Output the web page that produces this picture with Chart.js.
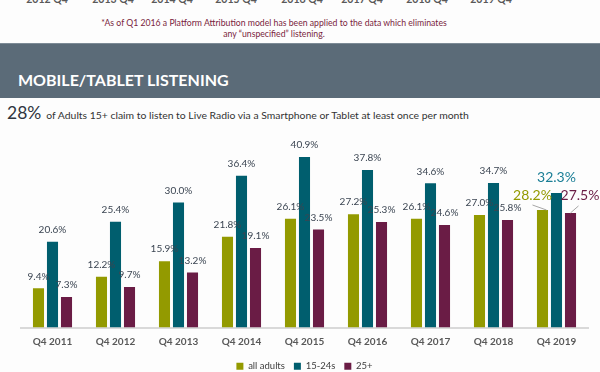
<!DOCTYPE html>
<html>
<head>
<meta charset="utf-8">
<script src="https://cdn.jsdelivr.net/npm/chart.js@4"></script>
<style>
  html,body{margin:0;padding:0;background:#fdfdfd;width:600px;height:372px;overflow:hidden;font-family:Lato,"Open Sans",sans-serif;}
  .abs{position:absolute;white-space:nowrap;}
  #banner{position:absolute;left:0;top:43px;width:600px;height:54px;background:#5b6b78;border-top:1px solid #7d8b96;}
  #btitle{left:18px;top:70px;color:#fff;font-weight:700;font-size:16px;}
  .toplab{top:-7px;font-size:10.5px;font-weight:700;color:#595959;transform:translateX(-50%);}
  .note{font-size:8.7px;color:#7a1e40;left:274px;transform:translateX(-50%);}
  #sub{left:7px;top:102px;color:#333;}
  #sub .big{font-size:17.5px;color:#2f3540;}
  #sub .small{font-size:10.4px;margin-left:5px;}
  #wrap{position:absolute;left:0;top:125px;width:600px;height:256px;}
</style>
</head>
<body>
<div id="banner"></div>
<div class="abs" id="btitle">MOBILE/TABLET LISTENING</div>
<div id="tops"></div>
<div class="abs note" style="top:17px;">*As of Q1 2016 a Platform Attribution model has been applied to the data which eliminates</div>
<div class="abs note" style="top:28px;">any “unspecified” listening.</div>
<div class="abs" id="sub"><span class="big">28%</span><span class="small">of Adults 15+ claim to listen to Live Radio via a Smartphone or Tablet at least once per month</span></div>
<div id="wrap"><canvas id="c" width="600" height="256"></canvas></div>
<script>
const topLabels = ["2012 Q4","2013 Q4","2014 Q4","2015 Q4","2016 Q4","2017 Q4","2018 Q4","2019 Q4"];
const categories = ["Q4 2011","Q4 2012","Q4 2013","Q4 2014","Q4 2015","Q4 2016","Q4 2017","Q4 2018","Q4 2019"];
const allAdults = [9.4,12.2,15.9,21.8,26.1,27.2,26.1,27.0,28.2];
const age1524 = [20.6,25.4,30.0,36.4,40.9,37.8,34.6,34.7,32.3];
const age25plus = [7.3,9.7,13.2,19.1,23.5,25.3,24.6,25.8,27.5];
const seriesNames = ["all adults","15-24s","25+"];
const colors = ["#939a00","#005e6e","#6a1c45"];

// cut-off labels from the chart above
const topX = [47,113,172,236,302,362,427,491];
const tops = document.getElementById('tops');
topLabels.forEach((t,i)=>{const d=document.createElement('div');d.className='abs toplab';d.style.left=topX[i]+'px';d.textContent=t;tops.appendChild(d);});

const labelPlugin = {
  id:'barLabels',
  afterDatasetsDraw(chart){
    const ctx = chart.ctx;
    ctx.save();
    ctx.textAlign='center';ctx.textBaseline='middle';
    const last = categories.length-1;
    chart.data.datasets.forEach((ds,i)=>{
      const meta = chart.getDatasetMeta(i);
      meta.data.forEach((bar,j)=>{
        const txt = ds.data[j].toFixed(1)+'%';
        if(j===last){
          ctx.font='14px Lato';
          ctx.fillStyle = i===1 ? '#1a7e96' : colors[i];
          let lx = bar.x, ly = bar.y-15;
          if(i===0){lx = bar.x-10;}
          if(i===2){lx = bar.x+9.5; ly = bar.y-17.5;}
          ctx.fillText(txt,lx,ly);
          ctx.strokeStyle='#a6a6a6';ctx.lineWidth=1;
          if(i===0){ctx.beginPath();ctx.moveTo(lx,bar.y-5);ctx.lineTo(bar.x+4,bar.y);ctx.stroke();}
          if(i===2){ctx.beginPath();ctx.moveTo(bar.x,bar.y);ctx.lineTo(bar.x+8,bar.y-7);ctx.stroke();}
        } else {
          ctx.font='10px Lato';
          ctx.fillStyle='#3b4552';
          ctx.fillText(txt,bar.x,bar.y-12);
        }
      });
    });
    ctx.restore();
  }
};

new Chart(document.getElementById('c'),{
  type:'bar',
  data:{
    labels:categories,
    datasets:[
      {label:seriesNames[0],data:allAdults,backgroundColor:colors[0],borderWidth:0},
      {label:seriesNames[1],data:age1524,backgroundColor:colors[1],borderWidth:0},
      {label:seriesNames[2],data:age25plus,backgroundColor:colors[2],borderWidth:0}
    ]
  },
  options:{
    responsive:false,animation:false,
    layout:{padding:{left:21,right:12,top:15,bottom:0}},
    datasets:{bar:{categoryPercentage:0.667,barPercentage:0.79}},
    plugins:{
      legend:{position:'bottom',labels:{boxWidth:7,boxHeight:7,padding:9,color:'#404040',font:{family:'Lato',size:9.5}}},
      tooltip:{enabled:false}
    },
    scales:{
      x:{grid:{display:false,drawTicks:false},border:{color:'#d9d9d9',width:2},
         afterFit(scale){scale.height=25;},
         ticks:{padding:8,color:'#595959',font:{family:'Lato',size:10,weight:'bold'}}},
      y:{display:false,min:0,max:45}
    }
  },
  plugins:[labelPlugin]
});
</script>
</body>
</html>
